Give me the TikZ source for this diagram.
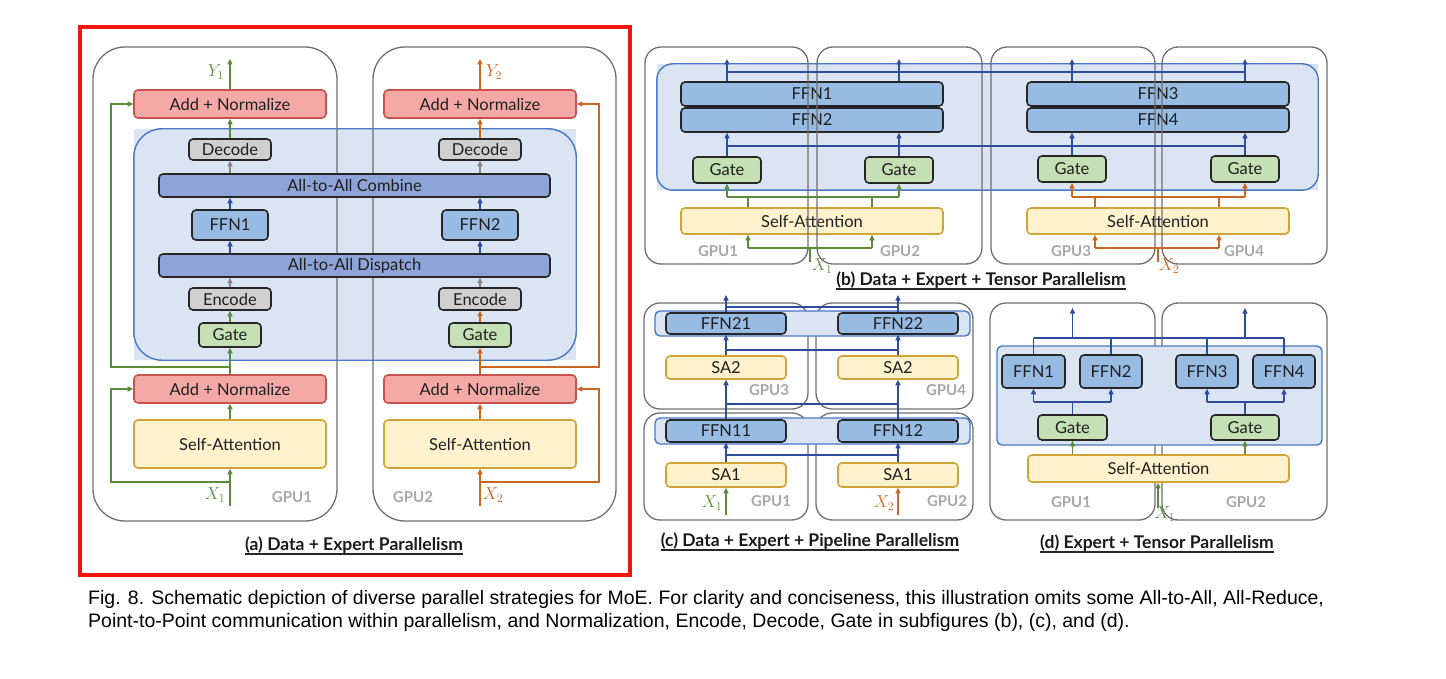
\documentclass[tikz,border=0pt]{standalone}
\usepackage{fontspec}
\setmainfont{Lato}
\newfontfamily\capfont{Liberation Sans}
\usetikzlibrary{arrows.meta}
\definecolor{gpuline}{HTML}{707070}
\definecolor{regfill}{HTML}{DAE4F3}
\definecolor{regline}{HTML}{4A78C4}
\definecolor{anfill}{HTML}{F4A9A7}
\definecolor{anline}{HTML}{C9534F}
\definecolor{safill}{HTML}{FFF2CC}
\definecolor{saline}{HTML}{CFA53A}
\definecolor{codefill}{HTML}{D0D0D0}
\definecolor{a2afill}{HTML}{8EA3D8}
\definecolor{ffnfill}{HTML}{98BBE3}
\definecolor{gatefill}{HTML}{C5E0B4}
\definecolor{darkb}{HTML}{262626}
\definecolor{ggreen}{HTML}{5B8C3A}
\definecolor{gorange}{HTML}{C9661F}
\definecolor{gblue}{HTML}{2F4C9E}
\definecolor{gpulab}{HTML}{A8A8A8}
\definecolor{arrgray}{HTML}{858585}
\definecolor{framered}{HTML}{F4160C}
\tikzset{
  blk/.style={draw, line width=1.6pt, rounded corners=4pt, inner sep=0pt,
    font=\fontsize{16.5}{18}\selectfont, text=black!88},
  anbox/.style={blk, fill=anfill, draw=anline},
  sabox/.style={blk, fill=safill, draw=saline},
  codbox/.style={blk, fill=codefill, draw=darkb},
  atabox/.style={blk, fill=a2afill, draw=darkb},
  ffnbox/.style={blk, fill=ffnfill, draw=darkb},
  gatebox/.style={blk, fill=gatefill, draw=darkb},
  gpubig/.style={draw=gpuline, line width=1.3pt, rounded corners=32pt, inner sep=0pt},
  gpusmall/.style={draw=gpuline, line width=1.3pt, rounded corners=16pt, inner sep=0pt},
  regfillonly/.style={fill=regfill, inner sep=0pt},
  stripbox/.style={fill=regfill, draw=regline, line width=1.4pt, rounded corners=5pt, inner sep=0pt},
  gpulabel/.style={text=gpulab, font=\fontsize{15}{17}\selectfont\bfseries, inner sep=0pt},
  arrtip/.style={-{Triangle[length=5.5pt,width=5pt]}, line width=1.3pt},
  ga/.style={arrtip, draw=ggreen},
  oa/.style={arrtip, draw=gorange},
  ba/.style={arrtip, draw=gblue},
  gra/.style={arrtip, draw=arrgray},
  gl/.style={line width=1.3pt, draw=ggreen},
  ol/.style={line width=1.3pt, draw=gorange},
  bl/.style={line width=1.3pt, draw=gblue},
  sublabel/.style={font=\fontsize{17.5}{19}\selectfont\bfseries, inner sep=0pt, text=black!90},
  mathlab/.style={font=\fontsize{18}{19}\selectfont, inner sep=0pt},
}
\newcommand\bx[7]{\node[#2,minimum width={(#5)-(#3)},minimum height={(#6)-(#4)}] (#1) at ({((#3)+(#5))/2},{((#4)+(#6))/2}) {#7};}
\newcommand\uline[1]{\draw[line width=1.2pt, black!85] ([yshift=-3.5pt]#1.base west) -- ([yshift=-3.5pt]#1.base east);}
\begin{document}
\begin{tikzpicture}[x=1pt,y=-1pt]
\useasboundingbox (0,0) rectangle (1446,679);
\fill[white] (0,0) rectangle (1446,679);

% ================= (a) =================
\draw[framered, line width=4pt] (80,27) rectangle (630,575);
\bx{a-reg}{regfillonly}{134}{129}{576}{360}{}
\bx{a-g1}{gpubig}{93}{47}{337}{521}{}
\bx{a-g2}{gpubig}{373}{47}{616}{521}{}
\draw[regline, line width=1.4pt, rounded corners=28pt] (a-reg.south west) rectangle (a-reg.north east);

\bx{a-an1}{anbox}{134}{90}{326}{118}{Add + Normalize}
\bx{a-dec1}{codbox}{189}{139}{271}{160}{Decode}
\bx{a-comb}{atabox}{159}{174}{550}{197}{All-to-All Combine}
\bx{a-ffn1}{ffnbox}{192}{210}{268}{240}{FFN1}
\bx{a-disp}{atabox}{159}{254}{550}{277}{All-to-All Dispatch}
\bx{a-enc1}{codbox}{189}{288}{271}{310}{Encode}
\bx{a-gate1}{gatebox}{199}{323}{261}{347}{Gate}
\bx{a-an2}{anbox}{134}{375}{326}{403}{Add + Normalize}
\bx{a-sa1}{sabox}{134}{420}{326}{468}{Self-Attention}

\bx{a-an3}{anbox}{384}{90}{576}{118}{Add + Normalize}
\bx{a-dec2}{codbox}{439}{139}{521}{160}{Decode}
\bx{a-ffn2}{ffnbox}{442}{210}{518}{240}{FFN2}
\bx{a-enc2}{codbox}{439}{288}{521}{310}{Encode}
\bx{a-gate2}{gatebox}{449}{323}{511}{347}{Gate}
\bx{a-an4}{anbox}{384}{375}{576}{403}{Add + Normalize}
\bx{a-sa2}{sabox}{384}{420}{576}{468}{Self-Attention}

% GPU1 flow
\coordinate (a-x1) at (230,506);
\coordinate (a-y1) at (230,59);
\draw[ga] (a-x1) -- (a-sa1.south);
\draw[ga] (a-sa1.north) -- (a-an2.south);
\draw[ga] (a-an2.north) -- (a-gate1.south);
\draw[ga] (a-gate1.north) -- (a-enc1.south);
\draw[gra] (a-enc1.north) -- (a-enc1.north |- a-disp.south);
\draw[ba] (a-ffn1.south |- a-disp.north) -- (a-ffn1.south);
\draw[ba] (a-ffn1.north) -- (a-ffn1.north |- a-comb.south);
\draw[gra] (a-dec1.south |- a-comb.north) -- (a-dec1.south);
\draw[ga] (a-dec1.north) -- (a-an1.south);
\draw[ga] (a-an1.north) -- (a-y1);
\coordinate (a-l1) at (111,482);
\coordinate (a-l2) at (111,367);
\draw[ga] (a-x1 |- a-l1) -- (a-l1) |- (a-an2.west);
\draw[ga] (a-x1 |- a-l2) -- (a-l2) |- (a-an1.west);
% GPU2 flow
\coordinate (a-x2) at (480,506);
\coordinate (a-y2) at (480,59);
\draw[oa] (a-x2) -- (a-sa2.south);
\draw[oa] (a-sa2.north) -- (a-an4.south);
\draw[oa] (a-an4.north) -- (a-gate2.south);
\draw[oa] (a-gate2.north) -- (a-enc2.south);
\draw[gra] (a-enc2.north) -- (a-enc2.north |- a-disp.south);
\draw[ba] (a-ffn2.south |- a-disp.north) -- (a-ffn2.south);
\draw[ba] (a-ffn2.north) -- (a-ffn2.north |- a-comb.south);
\draw[gra] (a-dec2.south |- a-comb.north) -- (a-dec2.south);
\draw[oa] (a-dec2.north) -- (a-an3.south);
\draw[oa] (a-an3.north) -- (a-y2);
\coordinate (a-r1) at (599,482);
\coordinate (a-r2) at (599,367);
\draw[oa] (a-x2 |- a-r1) -- (a-r1) |- (a-an4.east);
\draw[oa] (a-x2 |- a-r2) -- (a-r2) |- (a-an3.east);

\node[mathlab, text=ggreen] (a-x1lab) at (215,495) {$X_1$};
\node[mathlab, text=ggreen] (a-y1lab) at (216,72) {$Y_1$};
\node[mathlab, text=gorange] (a-x2lab) at (493,495) {$X_2$};
\node[mathlab, text=gorange] (a-y2lab) at (494,72) {$Y_2$};
\node[gpulabel] (a-gl1) at (292,497) {GPU1};
\node[gpulabel] (a-gl2) at (413,497) {GPU2};
\node[sublabel] (a-sub) at (354,545) {(a) Data + Expert Parallelism};
\uline{a-sub}

% ================= (b) =================
\bx{b-reg}{regfillonly}{657}{64}{1318}{190}{}
\draw[regline, line width=1.4pt, rounded corners=16pt] (b-reg.south west) rectangle (b-reg.north east);
\bx{b-ffn1}{ffnbox}{681}{82}{943}{106}{FFN1}
\bx{b-ffn2}{ffnbox}{681}{108}{943}{132}{FFN2}
\bx{b-ffn3}{ffnbox}{1027}{82}{1289}{106}{FFN3}
\bx{b-ffn4}{ffnbox}{1027}{108}{1289}{132}{FFN4}
\bx{b-gate1}{gatebox}{693}{157}{761}{183}{Gate}
\bx{b-gate2}{gatebox}{865}{157}{933}{183}{Gate}
\bx{b-gate3}{gatebox}{1038}{156}{1106}{182}{Gate}
\bx{b-gate4}{gatebox}{1211}{156}{1279}{182}{Gate}
\bx{b-sa1}{sabox}{681}{208}{943}{234}{Self-Attention}
\bx{b-sa2}{sabox}{1027}{208}{1289}{234}{Self-Attention}
\bx{b-g1}{gpusmall}{645}{47}{808}{264}{}
\bx{b-g2}{gpusmall}{817}{47}{982}{264}{}
\bx{b-g3}{gpusmall}{991}{47}{1155}{264}{}
\bx{b-g4}{gpusmall}{1162}{47}{1327}{264}{}

\coordinate (b-o1) at (727,59);
\coordinate (b-o2) at (899,59);
\coordinate (b-o3) at (1072,59);
\coordinate (b-o4) at (1245,59);
\draw[ba] (b-o1 |- b-ffn1.north) -- (b-o1);
\draw[ba] (b-o2 |- b-ffn1.north) -- (b-o2);
\draw[ba] (b-o3 |- b-ffn3.north) -- (b-o3);
\draw[ba] (b-o4 |- b-ffn3.north) -- (b-o4);
\coordinate (b-h1) at (727,72);
\coordinate (b-h2) at (1245,72);
\draw[bl] (b-h1) -- (b-h2);
\draw[ba] (b-gate1.north) -- (b-gate1.north |- b-ffn2.south);
\draw[ba] (b-gate2.north) -- (b-gate2.north |- b-ffn2.south);
\draw[ba] (b-gate3.north) -- (b-gate3.north |- b-ffn4.south);
\draw[ba] (b-gate4.north) -- (b-gate4.north |- b-ffn4.south);
\coordinate (b-m1) at (727,146);
\coordinate (b-m2) at (1245,146);
\draw[bl] (b-m1) -- (b-m2);
% green tree
\coordinate (b-s1) at (748,197);
\coordinate (b-s2) at (872,197);
\draw[gl] (b-s1 |- b-sa1.north) -- (b-s1);
\draw[gl] (b-s2 |- b-sa1.north) -- (b-s2);
\draw[gl] (b-gate1.south |- b-s1) -- (b-gate2.south |- b-s1);
\draw[ga] (b-gate1.south |- b-s1) -- (b-gate1.south);
\draw[ga] (b-gate2.south |- b-s1) -- (b-gate2.south);
\coordinate (b-x1) at (810,262);
\coordinate (b-xj1) at (810,248);
\coordinate (b-u1) at (748,248);
\coordinate (b-u2) at (872,248);
\draw[gl] (b-x1) -- (b-xj1);
\draw[gl] (b-u1) -- (b-u2);
\draw[ga] (b-u1) -- (b-u1 |- b-sa1.south);
\draw[ga] (b-u2) -- (b-u2 |- b-sa1.south);
% orange tree
\coordinate (b-s3) at (1095,197);
\coordinate (b-s4) at (1219,197);
\draw[ol] (b-s3 |- b-sa2.north) -- (b-s3);
\draw[ol] (b-s4 |- b-sa2.north) -- (b-s4);
\draw[ol] (b-gate3.south |- b-s3) -- (b-gate4.south |- b-s3);
\draw[oa] (b-gate3.south |- b-s3) -- (b-gate3.south);
\draw[oa] (b-gate4.south |- b-s3) -- (b-gate4.south);
\coordinate (b-x2) at (1158,262);
\coordinate (b-xj2) at (1158,248);
\coordinate (b-u3) at (1095,248);
\coordinate (b-u4) at (1219,248);
\draw[ol] (b-x2) -- (b-xj2);
\draw[ol] (b-u3) -- (b-u4);
\draw[oa] (b-u3) -- (b-u3 |- b-sa2.south);
\draw[oa] (b-u4) -- (b-u4 |- b-sa2.south);

\node[mathlab, text=ggreen] (b-x1lab) at (822,266) {$X_1$};
\node[mathlab, text=gorange] (b-x2lab) at (1169,266) {$X_2$};
\node[gpulabel] (b-gl1) at (718,251) {GPU1};
\node[gpulabel] (b-gl2) at (900,251) {GPU2};
\node[gpulabel] (b-gl3) at (1071,251) {GPU3};
\node[gpulabel] (b-gl4) at (1244,251) {GPU4};
\node[sublabel] (b-sub) at (981,280) {(b) Data + Expert + Tensor Parallelism};
\uline{b-sub}

% ================= (c) =================
\bx{c-g3}{gpusmall}{644}{303}{808}{409}{}
\bx{c-g4}{gpusmall}{816}{303}{973}{409}{}
\bx{c-g1}{gpusmall}{644}{413}{808}{520}{}
\bx{c-g2}{gpusmall}{816}{413}{973}{520}{}
\bx{c-st2}{stripbox}{655}{311}{970}{336}{}
\bx{c-st1}{stripbox}{655}{418}{970}{444}{}
\bx{c-ffn21}{ffnbox}{666}{313}{786}{334}{FFN21}
\bx{c-ffn22}{ffnbox}{838}{313}{958}{334}{FFN22}
\bx{c-sa21}{sabox}{666}{356}{786}{379}{SA2}
\bx{c-sa22}{sabox}{838}{356}{958}{379}{SA2}
\bx{c-ffn11}{ffnbox}{666}{420}{786}{442}{FFN11}
\bx{c-ffn12}{ffnbox}{838}{420}{958}{442}{FFN12}
\bx{c-sa11}{sabox}{666}{463}{786}{487}{SA1}
\bx{c-sa12}{sabox}{838}{463}{958}{487}{SA1}

\coordinate (c-o1) at (726,295);
\coordinate (c-o2) at (898,295);
\draw[ba] (c-ffn21.north) -- (c-o1);
\draw[ba] (c-ffn22.north) -- (c-o2);
\coordinate (c-h1) at (726,307);
\coordinate (c-h2) at (898,307);
\draw[bl] (c-h1) -- (c-h2);
\draw[ba] (c-sa21.north) -- (c-ffn21.south);
\draw[ba] (c-sa22.north) -- (c-ffn22.south);
\coordinate (c-h3) at (726,350);
\coordinate (c-h4) at (898,350);
\draw[bl] (c-h3) -- (c-h4);
\draw[ba] (c-ffn11.north) -- (c-sa21.south);
\draw[ba] (c-ffn12.north) -- (c-sa22.south);
\coordinate (c-h5) at (726,404);
\coordinate (c-h6) at (898,404);
\draw[bl] (c-h5) -- (c-h6);
\draw[ba] (c-sa11.north) -- (c-ffn11.south);
\draw[ba] (c-sa12.north) -- (c-ffn12.south);
\coordinate (c-h7) at (726,455);
\coordinate (c-h8) at (898,455);
\draw[bl] (c-h7) -- (c-h8);
\coordinate (c-x1) at (726,515);
\coordinate (c-x2) at (898,515);
\draw[ga] (c-x1) -- (c-sa11.south);
\draw[oa] (c-x2) -- (c-sa12.south);
\node[mathlab, text=ggreen] (c-x1lab) at (712,503) {$X_1$};
\node[mathlab, text=gorange] (c-x2lab) at (884,503) {$X_2$};
\node[gpulabel] (c-gl1) at (771,501) {GPU1};
\node[gpulabel] (c-gl2) at (947,501) {GPU2};
\node[gpulabel] (c-gl3) at (769,390) {GPU3};
\node[gpulabel] (c-gl4) at (946,390) {GPU4};
\node[sublabel] (c-sub) at (810,541) {(c) Data + Expert + Pipeline Parallelism};
\uline{c-sub}

% ================= (d) =================
\bx{d-g1}{gpusmall}{990}{303}{1155}{520}{}
\bx{d-g2}{gpusmall}{1162}{303}{1327}{520}{}
\bx{d-reg}{stripbox}{997}{346}{1322}{445}{}
\bx{d-ffn1}{ffnbox}{1002}{355}{1065}{388}{FFN1}
\bx{d-ffn2}{ffnbox}{1080}{355}{1142}{388}{FFN2}
\bx{d-ffn3}{ffnbox}{1176}{355}{1238}{388}{FFN3}
\bx{d-ffn4}{ffnbox}{1253}{355}{1315}{388}{FFN4}
\bx{d-gate1}{gatebox}{1038}{415}{1107}{440}{Gate}
\bx{d-gate2}{gatebox}{1211}{415}{1279}{440}{Gate}
\bx{d-sa}{sabox}{1028}{455}{1289}{482}{Self-Attention}

\coordinate (d-t1) at (1033.5,338);
\coordinate (d-t4) at (1284,338);
\draw[bl] (d-ffn1.north) -- (d-ffn1.north |- d-t1);
\draw[bl] (d-ffn2.north) -- (d-ffn2.north |- d-t1);
\draw[bl] (d-ffn3.north) -- (d-ffn3.north |- d-t1);
\draw[bl] (d-ffn4.north) -- (d-ffn4.north |- d-t1);
\draw[bl] (d-t1) -- (d-t4);
\coordinate (d-o1) at (1072.5,308);
\coordinate (d-o2) at (1245,308);
\draw[ba] (d-o1 |- d-t1) -- (d-o1);
\draw[ba] (d-o2 |- d-t1) -- (d-o2);
\coordinate (d-b1) at (1072.5,402);
\coordinate (d-b2) at (1245,402);
\draw[bl] (d-gate1.north) -- (d-b1);
\draw[bl] (d-gate2.north) -- (d-b2);
\draw[bl] (d-ffn1.south |- d-b1) -- (d-ffn2.south |- d-b1);
\draw[bl] (d-ffn3.south |- d-b2) -- (d-ffn4.south |- d-b2);
\draw[ba] (d-ffn1.south |- d-b1) -- (d-ffn1.south);
\draw[ba] (d-ffn2.south |- d-b1) -- (d-ffn2.south);
\draw[ba] (d-ffn3.south |- d-b2) -- (d-ffn3.south);
\draw[ba] (d-ffn4.south |- d-b2) -- (d-ffn4.south);
\draw[ga] (d-gate1.south |- d-sa.north) -- (d-gate1.south);
\draw[ga] (d-gate2.south |- d-sa.north) -- (d-gate2.south);
\coordinate (d-x1) at (1158,508);
\draw[ga] (d-x1) -- (d-x1 |- d-sa.south);
\node[mathlab, text=ggreen] (d-x1lab) at (1165,514) {$X_1$};
\node[gpulabel] (d-gl1) at (1071,502) {GPU1};
\node[gpulabel] (d-gl2) at (1246,502) {GPU2};
\node[sublabel] (d-sub) at (1157,543) {(d) Expert + Tensor Parallelism};
\uline{d-sub}

% ================= caption =================
\node[anchor=base west, inner sep=0pt, font=\capfont\fontsize{19.5}{22}\selectfont] (cap1) at (88,604) {Fig. 8. Schematic depiction of diverse parallel strategies for MoE. For clarity and conciseness, this illustration omits some All-to-All, All-Reduce,};
\node[anchor=base west, inner sep=0pt, font=\capfont\fontsize{19.5}{22}\selectfont] (cap2) at (88,627) {Point-to-Point communication within parallelism, and Normalization, Encode, Decode, Gate in subfigures (b), (c), and (d).};
\end{tikzpicture}
\end{document}
